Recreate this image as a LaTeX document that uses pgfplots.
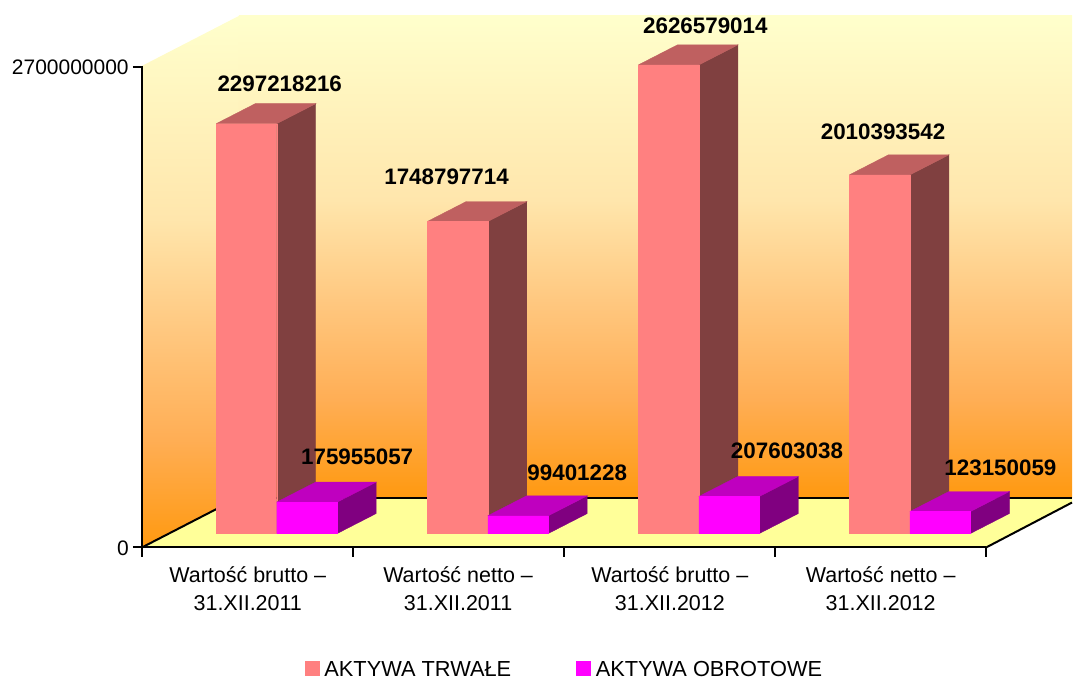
\documentclass[border=0pt]{standalone}
\usepackage{pgfplots}
\pgfplotsset{compat=1.18}
\usepackage{pgfplotstable}
\usepackage{fontspec}
\setmainfont{Liberation Sans}
\definecolor{wallTop}{HTML}{FFFFCC}
\definecolor{wallBot}{HTML}{FF9910}
\definecolor{floorc}{HTML}{FFFF99}
\definecolor{redF}{HTML}{FF8080}
\definecolor{redS}{HTML}{804040}
\definecolor{redT}{HTML}{BF6060}
\definecolor{magF}{HTML}{FF00FF}
\definecolor{magS}{HTML}{800080}
\definecolor{magT}{HTML}{BF00BF}
\definecolor{wallA}{HTML}{FFAE55}
\definecolor{wallB}{HTML}{FFC880}
\definecolor{wallC}{HTML}{FFE6AC}
\pgfdeclareverticalshading{wall}{100bp}{color(0bp)=(wallBot); color(25bp)=(wallBot); color(35.2bp)=(wallA); color(45.5bp)=(wallB); color(55.9bp)=(wallC); color(75bp)=(wallTop); color(100bp)=(wallTop)}
\pgfplotstableread{
x trwale obrotowe
0.639 2297218216 175955057
1.639 1748797714 99401228
2.639 2626579014 207603038
3.639 2010393542 123150059
}\barsdata
% side face: x of the right edge of the front, value, colour
\newcommand\sideface[3]{\addplot[fill=#3,draw=#3,line width=0.4pt,forget plot] table[row sep=\\,x expr=#1+\thisrow{a}*0.1846,y expr=\thisrow{b}*#2+\thisrow{c}*112000000]{a b c\\0 0 0\\0 1 0\\1 1 1\\1 0 1\\0 0 0\\};}
% top face: x of the left edge of the front, value, colour, width
\newcommand\topface[4]{\addplot[fill=#3,draw=#3,line width=0.4pt,forget plot] table[row sep=\\,x expr=#1+\thisrow{a}*#4+\thisrow{d}*0.1846,y expr=#2+\thisrow{d}*112000000]{a d\\0 0\\1 0\\1 1\\0 1\\0 0\\};}
\newcommand\lab[5]{\node[font=\fontsize{22.4}{26}\selectfont\bfseries,inner sep=0pt,anchor=center] at (axis cs:#1,#2) [xshift=#3pt,yshift=#4pt] {#5};}
\begin{document}
\begin{tikzpicture}
\begin{scope}[x=1pt,y=-1pt,shift={(0pt,678pt)}]
 \path (0,0) rectangle (1073,678);
 \shade[shading=wall] (142,66)--(239,16)--(239,498)--(142,548)--cycle;
 \shade[shading=wall] (239,16)--(1073,16)--(1073,498)--(239,498)--cycle;
 \fill[floorc] (142,548)--(239,498)--(1073,498)--(1073,503)--(987,548)--cycle;
 \draw[line width=2pt] (239,498)--(1073,498);
 \draw[line width=2pt] (142,548)--(239,498);
 \draw[line width=2pt] (987,548)--(1073,503);
 \draw[line width=2pt] (133,67)--(142,67)--(142,558);
 \draw[line width=2pt] (133,548)--(987,548);
 \foreach \t in {353.3,564.7,776,987} \draw[line width=2pt] (\t,548)--(\t,558);
 \node[font=\fontsize{21}{26}\selectfont,anchor=east,inner sep=0pt] at (129,67) {2700000000};
 \node[font=\fontsize{21}{26}\selectfont,anchor=east,inner sep=0pt] at (129,549) {0};
 \foreach \cx/\a/\b in {248/Wartość brutto –/31.XII.2011,458.5/Wartość netto –/31.XII.2011,670.5/Wartość brutto –/31.XII.2012,881.5/Wartość netto –/31.XII.2012}
   \node[font=\fontsize{21.5}{28}\selectfont,align=center,inner sep=0pt,text depth=0pt] at (\cx,589) {\a\\\b};
\end{scope}
\begin{axis}[
  at={(0pt,0pt)},anchor=south west,
  scale only axis,width=1073pt,height=678pt,
  xmin=-0.6722,xmax=4.4071,
  ymin=-806400000,ymax=2990400000,
  axis lines=none,clip=true,
  legend style={draw=none,fill=none,inner sep=0pt,outer sep=0pt,at={(axis cs:2.002,-755000000)},anchor=center,legend columns=2,
    font=\fontsize{21.8}{26}\selectfont,
    /tikz/every odd column/.append style={column sep=3.5pt},
    /tikz/every even column/.append style={column sep=63pt}},
  legend image code/.code={\fill[#1] (0pt,-7pt) rectangle (14pt,7pt);},
]
% red series
\sideface{0.639}{2297218216}{redS}
\sideface{1.639}{1748797714}{redS}
\sideface{2.639}{2626579014}{redS}
\sideface{3.639}{2010393542}{redS}
\topface{0.3526}{2297218216}{redT}{0.2864}
\topface{1.3526}{1748797714}{redT}{0.2864}
\topface{2.3526}{2626579014}{redT}{0.2864}
\topface{3.3526}{2010393542}{redT}{0.2864}
\addplot[ybar,bar width=60.5pt,bar shift=-30.25pt,fill=redF,draw=redF,line width=0.2pt] table[x=x,y=trwale]{\barsdata};
% magenta series
\sideface{0.9254}{175955057}{magS}
\sideface{1.9254}{99401228}{magS}
\sideface{2.9254}{207603038}{magS}
\sideface{3.9254}{123150059}{magS}
\topface{0.639}{175955057}{magT}{0.2864}
\topface{1.639}{99401228}{magT}{0.2864}
\topface{2.639}{207603038}{magT}{0.2864}
\topface{3.639}{123150059}{magT}{0.2864}
\addplot[ybar,bar width=60.5pt,bar shift=30.25pt,fill=magF,draw=magF,line width=0.2pt] table[x=x,y=obrotowe]{\barsdata};
\legend{\strut AKTYWA TRWAŁE,\strut AKTYWA OBROTOWE}
\lab{0.3526}{2297218216}{63.5}{40}{2297218216}
\lab{1.3526}{1748797714}{19.2}{45}{1748797714}
\lab{2.3526}{2626579014}{67}{39}{2626579014}
\lab{3.3526}{2010393542}{33.6}{43}{2010393542}
\lab{0.639}{175955057}{80.5}{45}{175955057}
\lab{1.639}{99401228}{89.5}{43}{99401228}
\lab{2.639}{207603038}{88.2}{46}{207603038}
\lab{3.639}{123150059}{90.6}{44}{123150059}
\end{axis}
\end{tikzpicture}
\end{document}
